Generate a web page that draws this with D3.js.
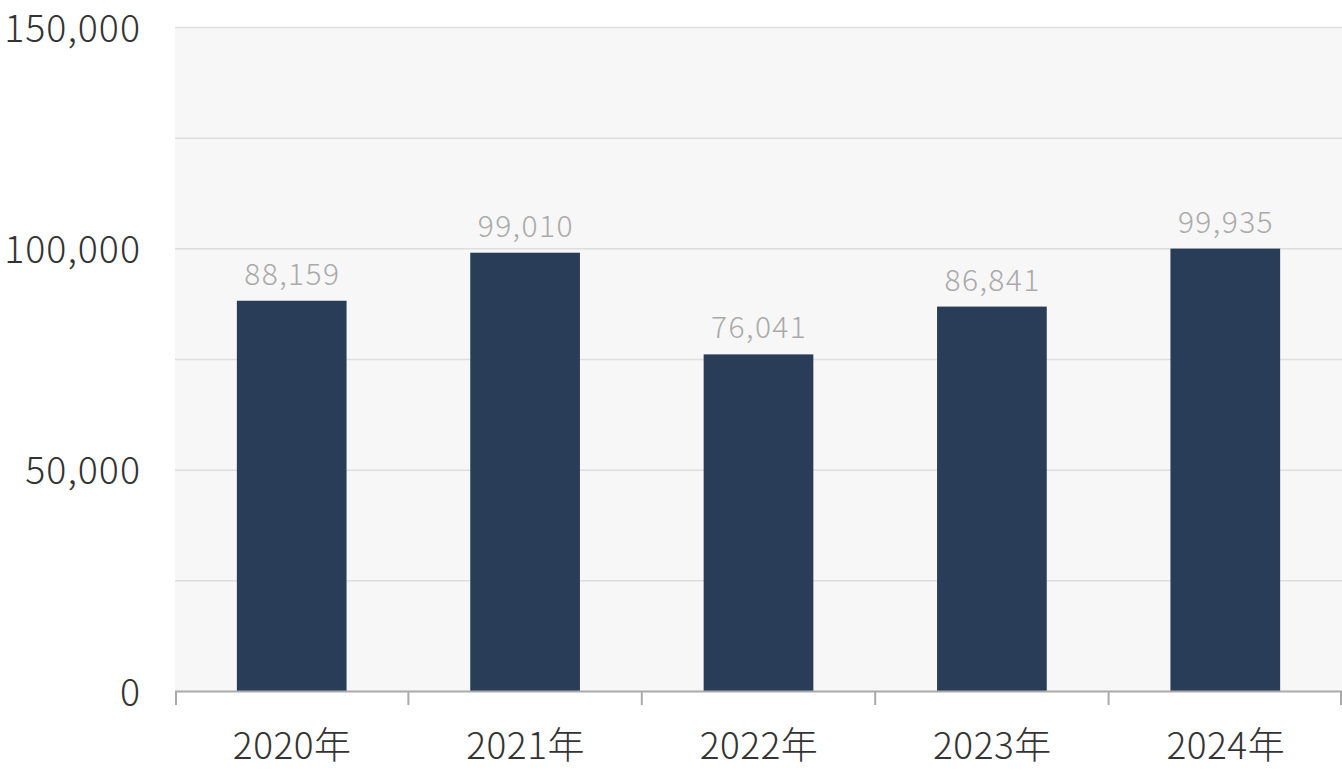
<!DOCTYPE html>
<html><head><meta charset="utf-8">
<script src="https://cdn.jsdelivr.net/npm/d3@7"></script>
<style>html,body{margin:0;padding:0;background:#fff;}svg{display:block;font-family:"Noto Sans CJK JP","Noto Sans",sans-serif;font-weight:300;}</style>
</head><body><svg id="c" width="1342" height="770"></svg>
<script>
const categories = ["2020年","2021年","2022年","2023年","2024年"];
const values = [88159, 99010, 76041, 86841, 99935];
const yTicks = [0, 25000, 50000, 75000, 100000, 125000, 150000];
const yLabelTicks = [0, 50000, 100000, 150000];

const svg = d3.select("#c");
const m = {l:175, r:1342, t:27, b:691};
const x = d3.scaleBand().domain(categories).range([m.l, m.r]).paddingInner(0.53).paddingOuter(0.265);
const y = d3.scaleLinear().domain([0,150000]).range([m.b, m.t]);
const fmt = d3.format(",");

svg.append("rect").attr("x", m.l).attr("y", m.t).attr("width", m.r-m.l).attr("height", m.b-m.t).attr("fill","#f7f7f7");
svg.append("g").selectAll("line").data(yTicks.filter(d=>d>0)).join("line")
  .attr("x1", m.l).attr("x2", m.r).attr("y1", d=>y(d)+0.5).attr("y2", d=>y(d)+0.5)
  .attr("stroke","#dedede").attr("stroke-width",1.5);

svg.append("g").selectAll("text").data(yLabelTicks).join("text")
  .attr("x", 141).attr("y", d=>y(d)+1).attr("dy","0.36em").attr("text-anchor","end")
  .attr("font-size",37.5).attr("letter-spacing","1px").attr("fill","#333").text(d=>fmt(d));

svg.append("g").selectAll("rect").data(values).join("rect")
  .attr("x",(d,i)=>x(categories[i])).attr("width",x.bandwidth())
  .attr("y",d=>y(d)).attr("height",d=>y(0)-y(d)).attr("fill","#293c58");

svg.append("g").selectAll("text").data(values).join("text")
  .attr("x",(d,i)=>x(categories[i])+x.bandwidth()/2+0.7).attr("y",d=>y(d)-16)
  .attr("text-anchor","middle").attr("font-size",30).attr("letter-spacing","1.4px").attr("fill","#aaaaaa").text(d=>fmt(d));

// x axis
svg.append("line").attr("x1",m.l).attr("x2",m.r).attr("y1",m.b+0.5).attr("y2",m.b+0.5).attr("stroke","#aaaaaa").attr("stroke-width",2);
const step = x.step();
const bounds = categories.map((c,i)=>x(c)-x.paddingInner()*step/2).concat([m.r-1]);
bounds[0] = m.l+1;
svg.append("g").selectAll("line").data(bounds).join("line")
  .attr("x1",d=>d).attr("x2",d=>d).attr("y1",m.b).attr("y2",m.b+14)
  .attr("stroke","#aaaaaa").attr("stroke-width",2);
svg.append("g").selectAll("text").data(categories).join("text")
  .attr("x",d=>x(d)+x.bandwidth()/2+0.5).attr("y",746).attr("dy","0.36em").attr("text-anchor","middle")
  .attr("font-size",37).attr("letter-spacing","0.5px").attr("fill","#333").text(d=>d);
</script></body></html>
